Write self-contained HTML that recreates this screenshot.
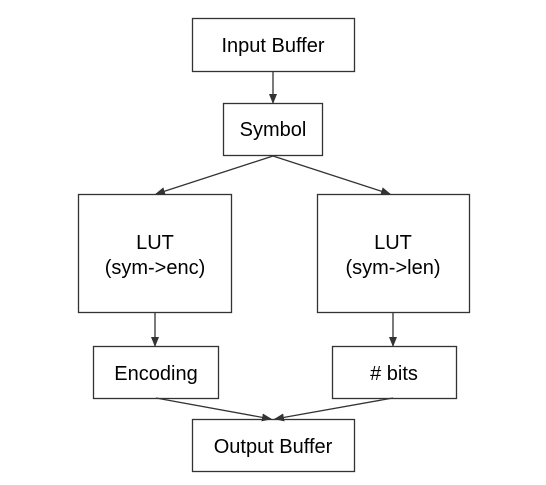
<!DOCTYPE html>
<html><head><style>
body{margin:0;background:#fff;}
svg text{font-family:"Liberation Sans",Arial,sans-serif;font-size:20px;fill:#000;text-anchor:middle;}
</style></head><body>
<svg width="546" height="480" viewBox="0 0 546 480" xmlns="http://www.w3.org/2000/svg">
<defs><marker id="a" markerWidth="10" markerHeight="10" refX="9" refY="5" orient="auto" markerUnits="userSpaceOnUse"><path d="M0,1 L10,5 L0,9 z" fill="#333"/></marker></defs>
<g fill="#fff" stroke="#333" stroke-width="1.3">
<rect x="192.5" y="18.5" width="162" height="53"/>
<rect x="223.5" y="103.5" width="99" height="52"/>
<rect x="78.5" y="194.5" width="153" height="118"/>
<rect x="317.5" y="194.5" width="152" height="118"/>
<rect x="93.5" y="346.5" width="125" height="52"/>
<rect x="332.5" y="346.5" width="124" height="52"/>
<rect x="192.5" y="419.5" width="162" height="52"/>
</g>
<g stroke="#333" stroke-width="1.3" fill="none" marker-end="url(#a)">
<line x1="273" y1="72" x2="273" y2="103"/>
<line x1="273" y1="156" x2="156" y2="194"/>
<line x1="273" y1="156" x2="390" y2="194"/>
<line x1="155" y1="313" x2="155" y2="346"/>
<line x1="393" y1="313" x2="393" y2="346"/>
<line x1="156" y1="398" x2="271" y2="419"/>
<line x1="393" y1="398" x2="275" y2="419"/>
</g>
<text x="273" y="52">Input Buffer</text>
<text x="273" y="136">Symbol</text>
<text x="155" y="249">LUT</text>
<text x="155" y="274">(sym-&gt;enc)</text>
<text x="393" y="249">LUT</text>
<text x="393" y="274">(sym-&gt;len)</text>
<text x="156" y="380">Encoding</text>
<text x="394" y="380"># bits</text>
<text x="273" y="453">Output Buffer</text>
</svg>
</body></html>
